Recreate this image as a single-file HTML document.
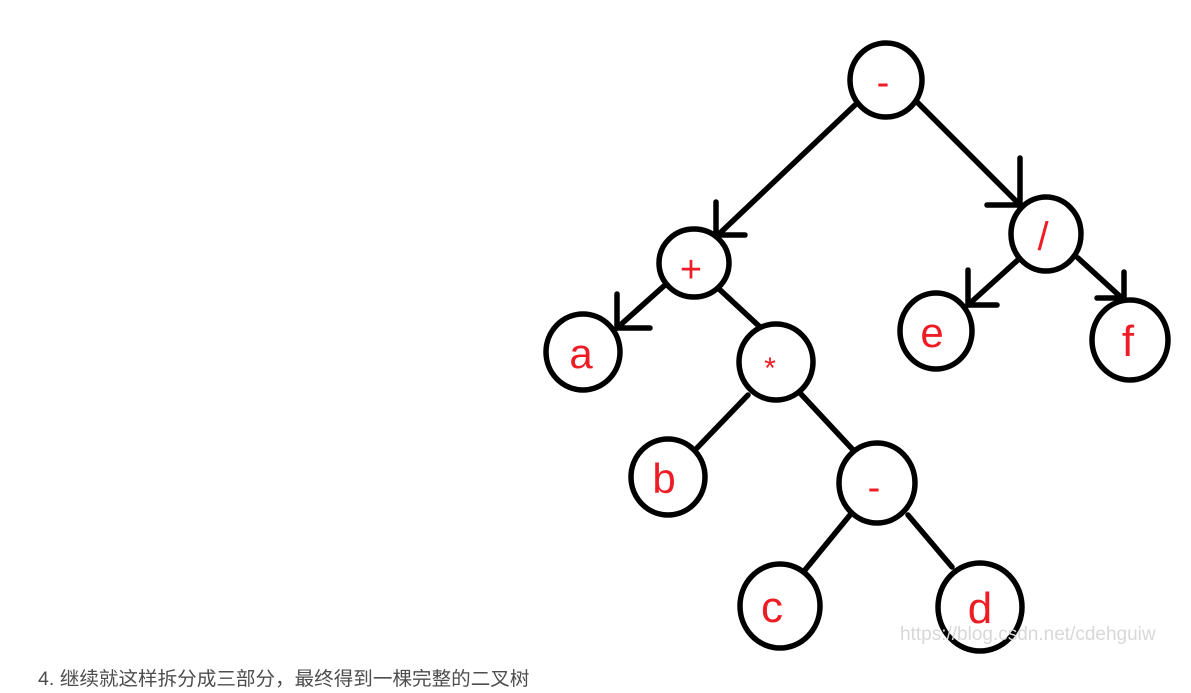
<!DOCTYPE html>
<html><head><meta charset="utf-8"><style>
html,body{margin:0;padding:0;background:#fff;width:1191px;height:693px;overflow:hidden}
.t{position:absolute;left:38px;top:664px;font:19px "Liberation Sans","Noto Sans CJK SC",sans-serif;color:#4d4d4d;transform:scaleX(1.03);transform-origin:left}
</style></head><body>
<svg width="1191" height="693" style="position:absolute;left:0;top:0">
<g stroke="#000" stroke-width="5.5" fill="none" stroke-linecap="round">
<line x1="855" y1="105" x2="718" y2="235"/><line x1="716" y1="202" x2="716" y2="235"/><line x1="716" y1="235" x2="745" y2="235"/>
<line x1="915" y1="100" x2="1020" y2="205"/><line x1="1020" y1="158" x2="1020" y2="207"/><line x1="987" y1="205" x2="1020" y2="205"/>
<line x1="665" y1="285" x2="617" y2="328"/><line x1="617" y1="294" x2="617" y2="328"/><line x1="617" y1="328" x2="650" y2="328"/>
<line x1="718" y1="288" x2="760" y2="327"/>
<line x1="748" y1="395" x2="697" y2="448"/>
<line x1="800" y1="393" x2="855" y2="452"/>
<line x1="850" y1="515" x2="805" y2="570"/>
<line x1="908" y1="515" x2="952" y2="567"/>
<line x1="1020" y1="258" x2="968" y2="305"/><line x1="968" y1="270" x2="968" y2="305"/><line x1="968" y1="305" x2="997" y2="305"/>
<line x1="1078" y1="258" x2="1124" y2="300"/><line x1="1124" y1="272" x2="1124" y2="300"/><line x1="1097" y1="298" x2="1124" y2="298"/>
<g fill="#fff">
<ellipse cx="886" cy="80" rx="36" ry="37"/>
<ellipse cx="694" cy="263" rx="35" ry="34"/>
<ellipse cx="583" cy="352" rx="37" ry="38"/>
<ellipse cx="776" cy="362" rx="37" ry="38"/>
<ellipse cx="668" cy="477" rx="37" ry="38"/>
<ellipse cx="877" cy="483" rx="38" ry="40"/>
<ellipse cx="780" cy="606" rx="40" ry="42"/>
<ellipse cx="980" cy="607" rx="42" ry="44"/>
<ellipse cx="1046" cy="234" rx="35" ry="37"/>
<ellipse cx="936" cy="331" rx="36" ry="38"/>
<ellipse cx="1130" cy="340" rx="38" ry="40"/>
</g></g>
<g fill="#ee1c24" font-family="Liberation Sans,sans-serif" text-anchor="middle">
<text x="883" y="95" font-size="38">-</text>
<text x="691" y="282" font-size="38">+</text>
<text x="581" y="368" font-size="42">a</text>
<text x="770" y="378" font-size="30">*</text>
<text x="664" y="493" font-size="42">b</text>
<text x="874" y="500" font-size="38">-</text>
<text x="772" y="622" font-size="44">c</text>
<text x="980" y="623" font-size="44">d</text>
<text x="1043" y="250" font-size="40">/</text>
<text x="932" y="347" font-size="42">e</text>
<text x="1128" y="356" font-size="44">f</text>
</g>
<text x="900" y="640" font-family="Liberation Sans,sans-serif" font-size="19" fill="#d8d8d8">https://blog.csdn.net/cdehguiw</text>
</svg>
<div class="t">4. 继续就这样拆分成三部分，最终得到一棵完整的二叉树</div>
</body></html>
